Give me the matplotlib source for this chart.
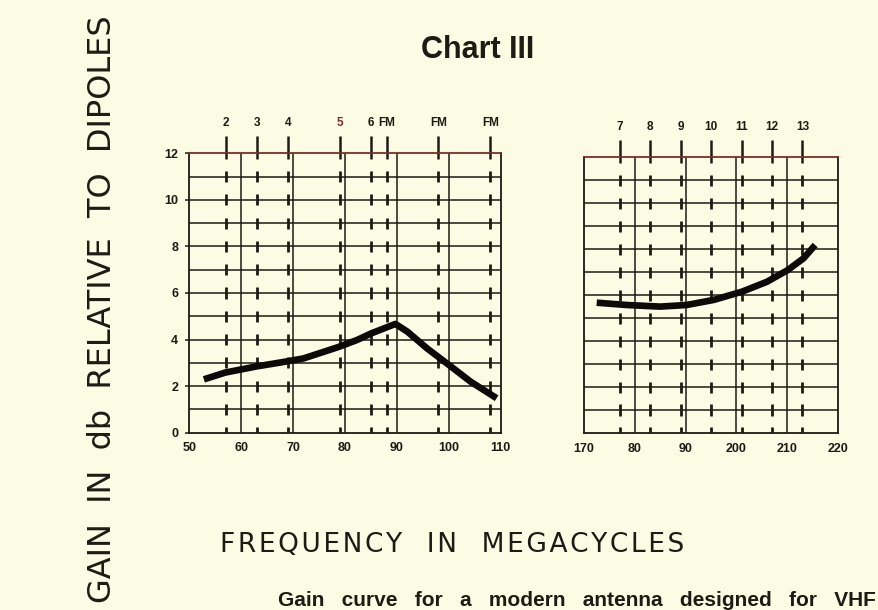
import matplotlib.pyplot as plt

# VHF low band (channels 2-6 + FM) and high band (channels 7-13)
low_freq = [52.8, 56.9, 62.8, 68.5, 72.0, 78.6, 82.3, 85.1, 89.7, 92.0, 95.8, 100.0, 104.2, 109.2]
low_gain = [2.29, 2.58, 2.84, 3.05, 3.19, 3.67, 3.98, 4.27, 4.67, 4.34, 3.62, 2.91, 2.19, 1.48]

high_freq = [172.5, 178.4, 185.0, 190.2, 195.5, 201.1, 206.0, 210.1, 213.2, 215.5]
high_gain = [5.67, 5.57, 5.50, 5.57, 5.79, 6.15, 6.58, 7.09, 7.60, 8.18]

low_channels = ["2", "3", "4", "5", "6", "FM", "FM", "FM"]
low_channel_freq = [57, 63, 69, 79, 85, 88, 98, 108]
high_channels = ["7", "8", "9", "10", "11", "12", "13"]
high_channel_freq = [177, 183, 189, 195, 201, 207, 213]

low_xticks = [50, 60, 70, 80, 90, 100, 110]
low_xlabels = ["50", "60", "70", "80", "90", "100", "110"]
high_xticks = [170, 180, 190, 200, 210, 220]
high_xlabels = ["170", "80", "90", "200", "210", "220"]
gain_ticks = [0, 2, 4, 6, 8, 10, 12]

PAPER = "#fcfbe4"
INK = "#1e1a14"
RUST = "#7a2f2a"


def spaced(s, gap="\u200a"):
    # open letter spacing for the lettered axis titles
    return gap.join(s)


def draw_panel(ax, xlim, xticks, xlabels, ch_freq, ch_names, freq, gain, show_y):
    ax.set_facecolor(PAPER)
    ax.set_xlim(*xlim)
    ax.set_ylim(0, 12)

    # paper grid: every dB, every 10 Mc
    for g in range(1, 12):
        ax.axhline(g, color=INK, lw=1.1, zorder=1)
    for x in xticks[1:-1]:
        ax.axvline(x, color=INK, lw=1.1, zorder=1)

    for s in ax.spines.values():
        s.set_color(INK)
        s.set_linewidth(1.3)
    ax.spines["top"].set_color(RUST)

    # channel markers: dashes centred on each grid line
    for x, name in zip(ch_freq, ch_names):
        for g in range(0, 12):
            ax.vlines(x, g - 0.24, g + 0.24, color=INK, lw=2.0, zorder=2)
        ax.vlines(x, 11.76, 12.75, color=INK, lw=1.8, zorder=2, clip_on=False)
        ax.text(x, 13.3, name, ha="center", va="center", fontsize=8.5,
                fontweight="bold", family="Liberation Sans",
                color=RUST if name == "5" else INK)

    ax.plot(freq, gain, color="#0c0a08", lw=4.8, solid_capstyle="butt",
            solid_joinstyle="round", zorder=3)

    ax.set_xticks(xticks)
    ax.set_xticklabels(xlabels, fontsize=9, fontweight="bold",
                       family="Liberation Sans", color=INK)
    ax.tick_params(axis="x", length=0, pad=7)
    if show_y:
        ax.set_yticks(gain_ticks)
        ax.set_yticklabels([str(v) for v in gain_ticks], fontsize=9,
                           fontweight="bold", family="Liberation Sans", color=INK)
        ax.tick_params(axis="y", length=3, width=1.1, color=INK, pad=5)
    else:
        ax.set_yticks([])


fig = plt.figure(figsize=(8.79, 6.10), dpi=100, facecolor=PAPER)

ax1 = fig.add_axes([0.2154, 0.2907, 0.3543, 0.4580])
draw_panel(ax1, (50, 110), low_xticks, low_xlabels, low_channel_freq,
           low_channels, low_freq, low_gain, True)

ax2 = fig.add_axes([0.6644, 0.2902, 0.2890, 0.4520])
draw_panel(ax2, (170, 220), high_xticks, high_xlabels, high_channel_freq,
           high_channels, high_freq, high_gain, False)

fig.text(478 / 879, 1 - 50 / 610, "Chart III", ha="center", va="center",
         fontsize=22, fontweight="bold", family="Liberation Sans", color=INK)

fig.text(103 / 879, 1 - 309 / 610, "GAIN  IN  db  RELATIVE  TO  DIPOLES",
         rotation=90, ha="center", va="center", fontsize=23,
         family="DejaVu Sans", color=INK)

fig.text(452 / 879, 1 - 545 / 610, spaced("FREQUENCY  IN  MEGACYCLES"),
         ha="center", va="center", fontsize=19, family="DejaVu Sans", color=INK)

fig.text(278 / 879, 1 - 600 / 610,
         "Gain   curve   for   a   modern   antenna   designed   for   VHF",
         ha="left", va="center", fontsize=15, fontweight="bold",
         family="Liberation Sans", color=INK)

fig.savefig("out.png", dpi=100, facecolor=PAPER)
